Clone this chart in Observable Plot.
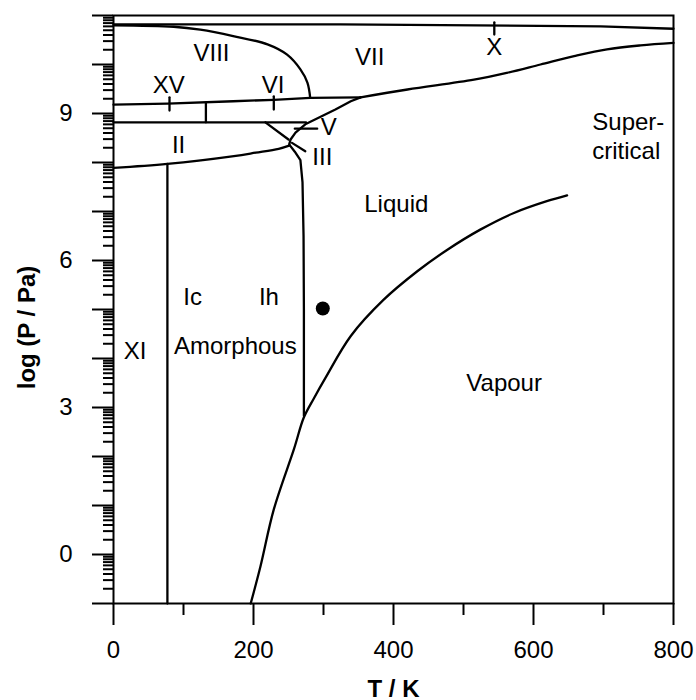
<!DOCTYPE html>
<html>
<head>
<meta charset="utf-8">
<script src="https://cdn.jsdelivr.net/npm/d3@7"></script>
<script src="https://cdn.jsdelivr.net/npm/@observablehq/plot@0.6"></script>
<style>
  html, body { margin: 0; padding: 0; background: #fff; }
  #chart svg { display: block; }
</style>
</head>
<body>
<div id="chart"></div>
<script>
// ---- Phase boundaries of water: [T (K), log10(P / Pa)] ----
const vapourCurve = [[196,-1],[210,-0.24],[229,0.92],[258,2.16],[272,2.80],[286,3.18],[303,3.61],[339,4.46],[386,5.20],[434,5.78],[477,6.22],[524,6.63],[572,6.97],[619,7.21],[648,7.33]];
const meltingIh = [[272,2.83],[272,5.0],[271.5,6.5],[270,7.6],[267,8.05],[259,8.22],[252,8.35]];
const meltingHigh = [[251,8.37],[253,8.47],[260,8.61],[274,8.78],[317,9.08],[339,9.25],[353,9.33]];
const meltingVII = [[353,9.33],[420,9.49],[515,9.69],[562,9.83],[610,10.0],[658,10.17],[705,10.31],[753,10.39],[800,10.44]];
const boundaryVIII = [[0,10.80],[86,10.77],[124,10.71],[171,10.58],[220,10.41],[248,10.20],[267,9.90],[277,9.63],[281,9.32]];
const boundaryX = [[0,10.82],[324,10.82],[696,10.78],[800,10.73]];
const boundaryXV = [[0,9.18],[77,9.20],[171,9.25],[229,9.28],[281,9.32],[353,9.33]];
const boundaryIIhigh = [[0,8.82],[275,8.82]];
const boundaryIIlow = [[0,7.89],[77,7.97],[172,8.13],[203,8.20],[236,8.28],[252,8.35]];
const boundaryIIV = [[217,8.82],[250,8.47]];
const boundaryXI = [[77,-1],[77,7.97]];
const boundaryXVVI = [[132,8.82],[132,9.22]];
const markX = [[544,10.61],[544,10.86]];
const markXV = [[80,9.06],[80,9.33]];
const markVI = [[229,9.08],[229,9.35]];
const pointerV = [[259,8.69],[291,8.69]];
const pointerIII = [[255,8.40],[274,8.23]];

// ambient conditions
const ambientT = [299];
const ambientLogP = [5.02];

// region labels (centred)
const labelText = ["VIII","XV","VI","VII","X","II","Liquid","Ic","Ih","XI","Amorphous","Vapour"];
const labelT    = [140, 79, 228, 366, 544, 93, 404, 113, 222, 31, 174, 558];
const labelLogP = [10.23, 9.58, 9.58, 10.14, 10.35, 8.35, 7.15, 5.24, 5.24, 4.15, 4.25, 3.50];
// region labels (left aligned)
const label2Text = ["V","III","Super-","critical"];
const label2T    = [296, 284, 684, 684];
const label2LogP = [8.72, 8.10, 8.81, 8.22];

// axes
const xMajorTicks = [0, 200, 400, 600, 800];
const xMinorTicks = [100, 300, 500, 700];
const yIntegerTicks = [-1,0,1,2,3,4,5,6,7,8,9,10,11];
const yTickLabels = [0, 3, 6, 9];
const yMinorTicks = [];
for (let d = -1; d < 11; d++) for (let k = 2; k <= 9; k++) yMinorTicks.push(d + Math.log10(k));

const curved = [vapourCurve, meltingVII, boundaryVIII, boundaryIIlow];
const straight = [meltingIh, meltingHigh, boundaryX, boundaryXV, boundaryIIhigh, boundaryIIV,
                  boundaryXI, boundaryXVVI, markX, markXV, markVI, pointerV, pointerIII];

const lw = 2.3;
const marks = [];
for (const pts of curved) marks.push(Plot.line(pts, {x: d => d[0], y: d => d[1], curve: "catmull-rom", stroke: "black", strokeWidth: lw}));
for (const pts of straight) marks.push(Plot.line(pts, {x: d => d[0], y: d => d[1], stroke: "black", strokeWidth: lw}));

const labels = labelText.map((t, i) => ({t, x: labelT[i], y: labelLogP[i]}));
const labels2 = label2Text.map((t, i) => ({t, x: label2T[i], y: label2LogP[i]}));

const chart = Plot.plot({
  width: 696,
  height: 700,
  marginLeft: 113,
  marginRight: 23,
  marginTop: 15,
  marginBottom: 97,
  style: {fontFamily: "'Liberation Sans', Arial, sans-serif", fontSize: "24px", color: "black", background: "white"},
  x: {domain: [0, 800], label: null},
  y: {domain: [-1, 11], label: null},
  marks: [
    Plot.axisY(yMinorTicks, {tickSize: 10, tickFormat: () => "", strokeWidth: 2, label: null}),
    Plot.axisY(yIntegerTicks, {tickSize: 21, tickPadding: 20, strokeWidth: 2, tickFormat: d => yTickLabels.includes(d) ? String(d) : "", label: null}),
    Plot.axisX(xMinorTicks, {tickSize: 12, tickFormat: () => "", strokeWidth: 2, label: null}),
    Plot.axisX(xMajorTicks, {tickSize: 22, tickPadding: 15, strokeWidth: 2, label: null}),
    Plot.frame({stroke: "black", strokeWidth: 2}),
    ...marks,
    Plot.dot(ambientT.map((t, i) => [t, ambientLogP[i]]), {x: d => d[0], y: d => d[1], r: 7, fill: "black", stroke: null}),
    Plot.text(labels, {x: "x", y: "y", text: "t", textAnchor: "middle", lineAnchor: "middle", fill: "black"}),
    Plot.text(labels2, {x: "x", y: "y", text: "t", textAnchor: "start", lineAnchor: "middle", fill: "black"}),
    Plot.text(["T / K"], {text: d => d, frameAnchor: "bottom", textAnchor: "middle", lineAnchor: "bottom", dy: 93, fontWeight: "bold", fill: "black"}),
    Plot.text(["log (P / Pa)"], {text: d => d, frameAnchor: "left", textAnchor: "middle", lineAnchor: "middle", rotate: -90, dx: -86, dy: 18, fontWeight: "bold", fill: "black"})
  ]
});
document.getElementById("chart").appendChild(chart);
</script>
</body>
</html>
